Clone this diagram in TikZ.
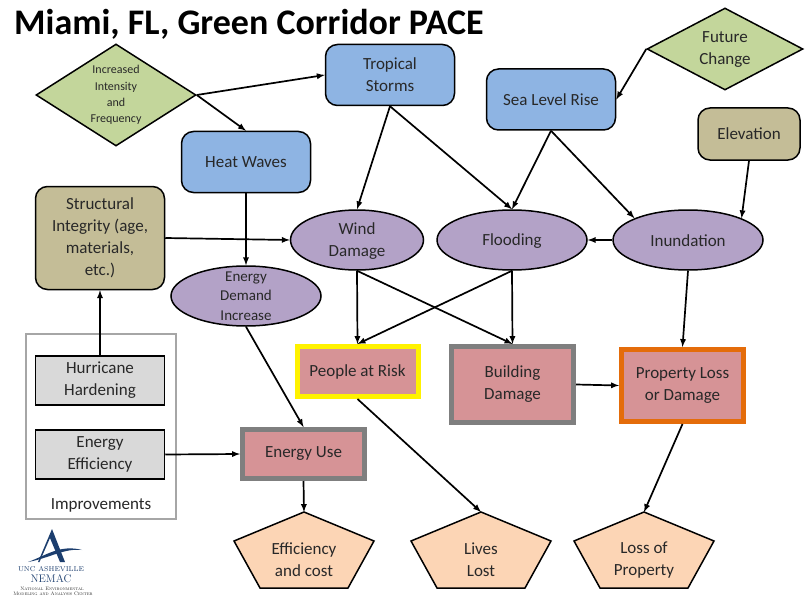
\documentclass[tikz,border=0pt]{standalone}
\usepackage{fontspec}
\setsansfont{Carlito}
\usetikzlibrary{arrows,scopes,shapes.geometric}
\definecolor{hazardBlue}{RGB}{142,180,227}
\definecolor{driverGreen}{RGB}{195,214,155}
\definecolor{siteTan}{RGB}{196,189,151}
\definecolor{effectPurple}{RGB}{179,162,199}
\definecolor{impactPink}{RGB}{214,147,150}
\definecolor{lossPeach}{RGB}{252,213,181}
\definecolor{logoBlue}{RGB}{28,62,110}
\definecolor{inkGray}{RGB}{40,40,40}
\definecolor{rimOrange}{RGB}{228,108,10}
\definecolor{rimGray}{RGB}{127,127,127}
\tikzset{
  driver/.style={diamond, draw=black, line width=1.5pt, fill=driverGreen, inner sep=0pt},
  effect/.style={ellipse, draw=black, line width=1.5pt, fill=effectPurple, inner sep=0pt, minimum width=150pt, minimum height=60pt},
  impact/.style={draw=#1, line width=5pt, fill=impactPink, align=center, inner sep=0pt, text=inkGray},
  boxtext/.style={align=center, text=inkGray, inner sep=0pt},
  every picture/.style={font=\sffamily\fontsize{17}{22}\selectfont}
}

\begin{document}
\begin{tikzpicture}[x=1pt, y=-1pt]
    \useasboundingbox (0,0) rectangle (808,599);
    \node[anchor=west, inner sep=0pt, font=\sffamily\bfseries\fontsize{36}{40}\selectfont] (title) at (14,24) {Miami, FL, Green Corridor PACE};
    % improvements panel
    \node[draw=gray!70, line width=1.2pt, fill=white, minimum width=150pt, minimum height=185pt] (IMP) at (101,426.5) {};
    \node[boxtext] (IMP-text) at (101,505) {Improvements};
    {[every node/.style={draw=black, line width=1.5pt, rounded corners=12pt, fill=hazardBlue, align=center, text=inkGray, minimum width=129pt, minimum height=61pt, inner sep=0pt}]
    \node (TS) at (390,75) {Tropical\\Storms};
    \node (SLR) at (551,99.5) {Sea Level Rise};
    \node (HW) at (246,162) {Heat Waves};
    }
    {[every node/.style={draw=black, line width=1.5pt, rounded corners=12pt, fill=siteTan, align=center, text=inkGray, inner sep=0pt}]
    \node[minimum width=129pt, minimum height=103pt] (SI) at (100,238) {Structural\\Integrity (age,\\materials,\\etc.)};
    \node[minimum width=102pt, minimum height=52pt] (ELV) at (749,134) {Elevation};
    }
    {[every node/.style={draw=black, line width=1.5pt, fill=black!15, align=center, text=inkGray, minimum width=129pt, minimum height=49pt, inner sep=0pt}]
    \node (HH) at (100,380.5) {Hurricane\\Hardening};
    \node (EE) at (100,454.5) {Energy\\Efficiency};
    }
    % diamonds and ellipses, text on top since it would not fit inside
    \node[driver, minimum width=160pt, minimum height=102pt] (IIF) at (116,95) {};
    \node[boxtext, font=\sffamily\fontsize{12}{16.2}\selectfont] (IIF-text) at (116,95) {Increased\\Intensity\\and\\Frequency};
    \node[driver, minimum width=156pt, minimum height=82pt] (FC) at (725,49) {};
    \node[boxtext] (FC-text) at (725,50) {Future\\Change};
    \node[effect, minimum width=133pt] (WD) at (357,240) {};
    \node[boxtext] (WD-text) at (357,241) {Wind\\Damage};
    \node[effect] (FL) at (512,240) {};
    \node[boxtext] (FL-text) at (512,241) {Flooding};
    \node[effect] (IN) at (688,240) {};
    \node[boxtext] (IN-text) at (688,241) {Inundation};
    \node[effect] (EDI) at (246,296) {};
    \node[boxtext, font=\sffamily\fontsize{15}{19.5}\selectfont] (EDI-text) at (246,296) {Energy\\Demand\\Increase};
    % impacts
    \node[impact=yellow, minimum width=121pt, minimum height=50pt] (PR) at (357.5,371.5) {People at Risk};
    \node[impact=rimGray, minimum width=122pt, minimum height=76pt] (BD) at (512.5,384.5) {Building\\Damage};
    \node[impact=rimOrange, minimum width=122pt, minimum height=72pt] (PL) at (682.5,385.5) {Property Loss\\or Damage};
    \node[impact=rimGray, minimum width=122pt, minimum height=49pt] (EU) at (303.5,454) {Energy Use};
    % pentagons
    \foreach \name/\x/\txt in {EC/304/{Efficiency\\and cost}, LL/481/{Lives\\Lost}, LP/644/{Loss of\\Property}}{
      \draw[line width=1.5pt, fill=lossPeach, line join=miter] (\x,512) coordinate (\name) -- ++(70,29) -- ++(-26,47) -- ++(-88,0) -- ++(-26,-47) -- cycle;
      \node[boxtext] (\name-text) at (\x,560) {\txt};
    }
    % logo
    \fill[logoBlue] (52,529) -- (38,562) -- (39.5,562) -- (50,538) -- (60,562) -- (65,562) -- cycle;
    \fill[logoBlue] (28,562) .. controls (45,556) and (60,544) .. (82,550) .. controls (64,548) and (50,558) .. (28,562) -- cycle;
    \node[inner sep=0pt, text=logoBlue, font=\rmfamily\fontsize{7}{7}\selectfont] (UA) at (51,569.5) {UNC ASHEVILLE};
    \node[inner sep=0pt, text=logoBlue, font=\rmfamily\fontsize{11}{11}\selectfont] (NM) at (51,579) {NEMAC};
    \node[inner sep=0pt, text=inkGray, font=\rmfamily\scshape\fontsize{5}{5}\selectfont] (NE) at (52,589) {National Environmental};
    \node[inner sep=0pt, text=inkGray, font=\rmfamily\scshape\fontsize{5}{5}\selectfont] (MA) at (53,594) {Modeling and Analysis Center};
    {[-latex, line width=1.7pt]
      \draw (IIF.east) -- (TS.west);
      \draw (IIF.east) -- (HW.north);
      \draw (FC.west) -- (SLR.east);
      \draw (TS.south) -- (WD.north);
      \draw (TS.south) -- (FL.north);
      \draw (SLR.south) -- (FL.north);
      \draw (SLR.south) -- (IN.north west);
      \draw (ELV.south) -- (IN.north east);
      \draw (HW.south) -- (EDI.north);
      \draw (SI.east) -- (WD.west);
      \draw (IN.west) -- (FL.east);
      \draw (WD.south) -- (PR.north);
      \draw (WD.south) -- (BD.north);
      \draw (FL.south) -- (PR.north);
      \draw (FL.south) -- (BD.north);
      \draw (IN.south) -- (PL.north);
      \draw (EDI.south) -- (EU.north);
      \draw (PR.south) -- (LL);
      \draw (BD.east) -- (PL.west);
      \draw (PL.south) -- (LP);
      \draw (EU.south) -- (EC);
      \draw (EE.east) -- (EU.west);
      \draw (HH.north) -- (SI.south);
    }
\end{tikzpicture}
\end{document}
